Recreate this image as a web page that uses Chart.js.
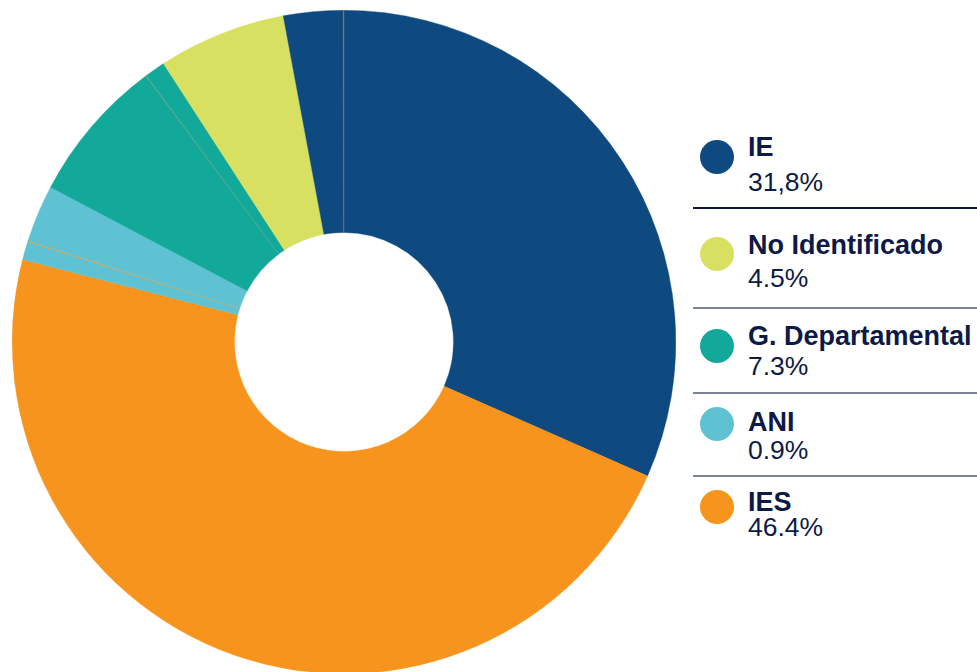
<!DOCTYPE html>
<html>
<head>
<meta charset="utf-8">
<script src="https://cdn.jsdelivr.net/npm/chart.js@4"></script>
<style>
    html, body { margin: 0; padding: 0; background: #fff; width: 977px; height: 672px; overflow: hidden; }
    #wrap { position: absolute; left: 12px; top: 10px; width: 664px; height: 664px; }
    .leg { position: absolute; left: 0; top: 0; font-family: "Liberation Sans", Arial, Helvetica, sans-serif; color: #0d1a45; }
    .dot { position: absolute; left: 700px; width: 34px; height: 34px; border-radius: 50%; }
    .lbl { position: absolute; left: 748px; font-size: 27px; line-height: 27px; font-weight: 700; white-space: nowrap; }
    .val { position: absolute; left: 748px; font-size: 26.5px; line-height: 27px; white-space: nowrap; }
    .sep { position: absolute; left: 693px; width: 284px; height: 1.5px; background: #7b8199; }
</style>
</head>
<body>
<div id="wrap"><canvas id="grafico"></canvas></div>
<div class="leg" id="legenda"></div>
<script>
// fatias no sentido horario a partir do topo (inclui as linhas finas entre fatias)
const categorias = ['IE', 'IES', 'ANI', 'sep laranja', 'ANI 2', 'G. Departamental', 'sep verde', 'G. Departamental 2',
    'No Identificado 2', 'sep amarela', 'No Identificado', 'IE 2', 'sep cinza'];
const valores = [31.7, 47.5, 0.9, 0.04, 2.8, 7.1, 0.04, 1.0, 1.8, 0.04, 4.4, 2.9, 0.04];
const cores = ['#0e4a7f', '#f7941d', '#5ec2d3', '#f7941d', '#5ec2d3', '#12a89a', '#5f9a74', '#12a89a',
    '#d8e061', '#d3da5e', '#d8e061', '#0e4a7f', '#7a7466'];

// legenda
const legLabels = ['IE', 'No Identificado', 'G. Departamental', 'ANI', 'IES'];
const legValores = ['31,8%', '4.5%', '7.3%', '0.9%', '46.4%'];
const legCores = ['#0e4a7f', '#d8e061', '#12a89a', '#5ec2d3', '#f7941d'];

// layout da legenda (topo do rotulo, topo do valor, centro da bolinha, linha abaixo)
const legLayout = [
    { lbl: 134, val: 169, dot: 157, sep: 207, sepCor: '#0b1640' },
    { lbl: 232, val: 265, dot: 254, sep: 307 },
    { lbl: 323, val: 353, dot: 346, sep: 392 },
    { lbl: 409, val: 437, dot: 424, sep: 475 },
    { lbl: 489, val: 514, dot: 507 }
];

function montarLegenda() {
    const el = document.getElementById('legenda');
    legLabels.forEach((nome, i) => {
        const p = legLayout[i];
        const dot = document.createElement('div');
        dot.className = 'dot';
        dot.style.top = (p.dot - 17) + 'px';
        dot.style.background = legCores[i];
        el.appendChild(dot);

        const l = document.createElement('div');
        l.className = 'lbl';
        l.style.top = p.lbl + 'px';
        l.textContent = nome;
        el.appendChild(l);

        const v = document.createElement('div');
        v.className = 'val';
        v.style.top = p.val + 'px';
        v.textContent = legValores[i];
        el.appendChild(v);

        if (p.sep) {
            const s = document.createElement('div');
            s.className = 'sep';
            s.style.top = p.sep + 'px';
            if (p.sepCor) s.style.background = p.sepCor;
            el.appendChild(s);
        }
    });
}

montarLegenda();

new Chart(document.getElementById('grafico'), {
    type: 'doughnut',
    data: {
        labels: categorias,
        datasets: [{
            data: valores,
            backgroundColor: cores,
            borderColor: cores,
            borderWidth: 0.4
        }]
    },
    options: {
        responsive: true,
        maintainAspectRatio: false,
        animation: false,
        cutout: '33%',
        layout: { padding: 0 },
        plugins: { legend: { display: false }, tooltip: { enabled: false } }
    }
});
</script>
</body>
</html>
